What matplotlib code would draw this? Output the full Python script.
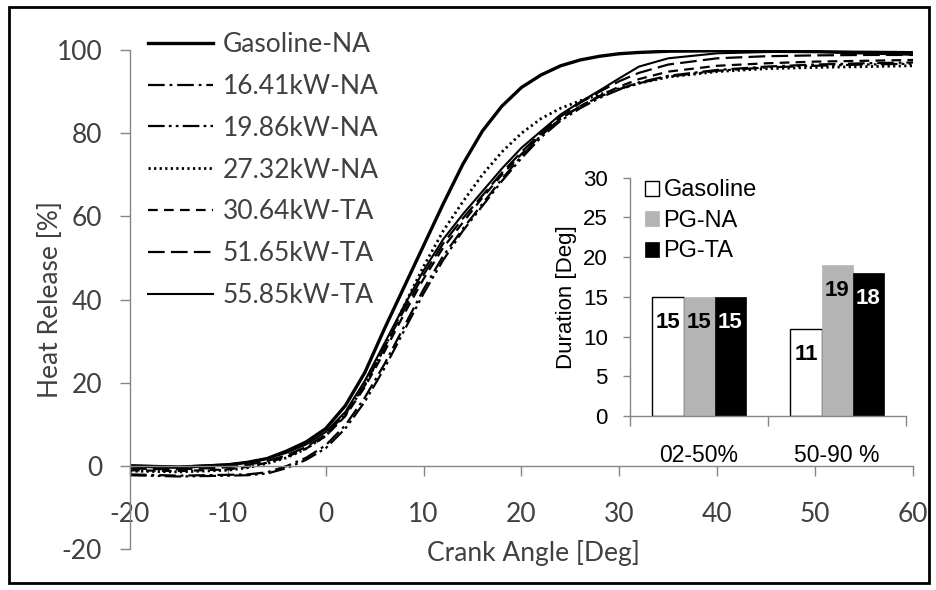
import numpy as np
import matplotlib.pyplot as plt
from matplotlib.patches import Rectangle

plt.rcParams['lines.scale_dashes'] = False
plt.rcParams['axes.unicode_minus'] = False

# crank angle [deg]
ca = [-20, -15, -10, -8, -6, -4, -2, 0, 2, 4, 6, 8, 10, 12, 14, 16, 18, 20,
      22, 24, 26, 28, 30, 32, 35, 40, 45, 50, 55, 60]

# heat release [%]
gas_na = [0.0, -0.3, 0.3, 0.9, 1.8, 3.6, 5.8, 9.0, 14.5, 22.5, 33.0, 43.0, 53.0, 63.0, 72.5,
          80.5, 86.5, 91.0, 94.0, 96.2, 97.6, 98.5, 99.1, 99.4, 99.7, 99.8, 99.7, 99.6, 99.3, 99.0]
kw1641 = [-2.0, -2.3, -2.1, -2.0, -1.5, 0.0, 2.0, 5.0, 9.8, 16.5, 24.5, 33.5, 42.5, 50.5, 57.0,
          63.0, 69.0, 74.5, 79.5, 83.5, 86.5, 88.8, 90.6, 92.2, 93.8, 95.2, 96.0, 96.5, 96.8, 97.0]
kw1986 = [-2.2, -2.5, -2.3, -2.2, -1.8, -0.5, 1.5, 4.3, 9.0, 15.5, 23.5, 32.5, 41.5, 49.5, 56.5,
          62.5, 68.5, 74.0, 79.0, 83.0, 86.0, 88.5, 90.5, 92.0, 93.6, 95.0, 95.8, 96.2, 96.5, 96.7]
kw2732 = [-1.2, -1.4, -1.0, -0.4, 0.6, 2.0, 4.2, 7.3, 12.3, 19.5, 28.5, 38.5, 48.0, 56.5, 63.5,
          70.0, 75.5, 80.0, 83.5, 86.0, 87.8, 89.3, 90.7, 92.0, 93.5, 94.8, 95.5, 95.8, 96.0, 96.2]
kw3064 = [-1.0, -1.2, -0.8, -0.2, 0.8, 2.2, 4.2, 7.2, 12.0, 19.0, 27.5, 36.5, 45.0, 52.5, 58.5,
          64.5, 70.0, 75.0, 79.5, 83.5, 86.5, 89.0, 91.2, 93.0, 94.8, 96.2, 96.8, 97.2, 97.4, 97.6]
kw5165 = [-0.6, -0.8, -0.3, 0.3, 1.2, 2.6, 4.6, 7.6, 12.5, 19.5, 28.5, 37.5, 46.0, 53.5, 59.5,
          65.0, 70.5, 75.5, 80.0, 84.0, 87.3, 90.0, 92.5, 94.5, 96.5, 98.0, 98.5, 98.7, 98.8, 98.8]
kw5585 = [0.2, -0.1, 0.4, 0.9, 1.8, 3.2, 5.2, 8.2, 13.0, 20.5, 29.5, 38.5, 47.0, 54.5, 60.5,
          66.0, 71.5, 76.5, 80.5, 84.5, 87.5, 90.3, 93.2, 96.0, 98.0, 99.2, 99.5, 99.6, 99.6, 99.5]

labels = ['Gasoline-NA', '16.41kW-NA', '19.86kW-NA', '27.32kW-NA',
          '30.64kW-TA', '51.65kW-TA', '55.85kW-TA']

# inset: combustion duration [deg]
phases = ['02-50%', '50-90 %']
dur_gas = [15, 11]
dur_pgna = [15, 19]
dur_pgta = [15, 18]

txt = '#404040'
spc = '#868686'
mfont = 'Lato'
ifont = 'Liberation Sans'
fs = 19

fig = plt.figure(figsize=(9.37, 5.9), dpi=100)
ax = fig.add_axes([0.1387, 0.069, 0.8357, 0.8463])

styles = [
    dict(lw=2.4, ls='-'),
    dict(lw=1.6, dashes=(12, 3.5, 2, 3.5)),
    dict(lw=1.6, dashes=(12, 3, 2, 3, 2, 3)),
    dict(lw=2.0, dashes=(1.6, 2.4)),
    dict(lw=1.6, dashes=(7, 4.5)),
    dict(lw=1.6, dashes=(12, 4.5)),
    dict(lw=1.5, ls='-'),
]
series = [gas_na, kw1641, kw1986, kw2732, kw3064, kw5165, kw5585]
handles = []
for ys, st, lb in zip(series, styles, labels):
    h, = ax.plot(ca, ys, color='black', label=lb, **st)
    handles.append(h)

ax.set_xlim(-20, 60)
ax.set_ylim(-20, 100)
ax.set_xticks(np.arange(-20, 61, 10))
ax.set_yticks(np.arange(-20, 101, 20))
ax.spines['top'].set_visible(False)
ax.spines['right'].set_visible(False)
ax.spines['bottom'].set_position(('data', 0))
for s in ['left', 'bottom']:
    ax.spines[s].set_color(spc)
    ax.spines[s].set_linewidth(1.0)
ax.tick_params(axis='x', direction='out', length=7, width=1, color=spc,
               pad=19, labelsize=fs, labelcolor=txt)
ax.tick_params(axis='y', direction='out', length=7, width=1, color=spc,
               pad=13, labelsize=fs, labelcolor=txt)
for t in ax.get_xticklabels() + ax.get_yticklabels():
    t.set_fontfamily(mfont)
ax.set_xlabel('Crank Angle [Deg]', fontsize=fs, color=txt, family=mfont, va='center')
ax.xaxis.set_label_coords(0.515, -0.008)
ax.set_ylabel('Heat Release [%]', fontsize=fs, color=txt, family=mfont, va='center')
ax.yaxis.set_label_coords(-0.102, 0.5)

ax.legend(handles=handles, loc='upper left', bbox_to_anchor=(0.158, 0.946),
          bbox_transform=fig.transFigure, frameon=False, borderpad=0,
          borderaxespad=0, handlelength=2.46, handletextpad=0.38,
          labelspacing=0.64, prop={'family': mfont, 'size': fs}, labelcolor=txt)

# inset bar chart
ins = fig.add_axes([0.6724, 0.2949, 0.2946, 0.4041])
xi = np.arange(len(phases))
w = 0.225
b1 = ins.bar(xi - w, dur_gas, w, color='white', edgecolor='black', lw=1.0, label='Gasoline')
b2 = ins.bar(xi, dur_pgna, w, color='#b4b4b4', edgecolor='#b4b4b4', lw=0.5, label='PG-NA')
b3 = ins.bar(xi + w, dur_pgta, w, color='black', edgecolor='black', lw=0.5, label='PG-TA')
for bars, c in [(b1, 'black'), (b2, 'black'), (b3, 'white')]:
    for t in ins.bar_label(bars, padding=-26):
        t.set_color(c)
        t.set_fontweight('bold')
        t.set_fontsize(16)
        t.set_family(ifont)

ins.set_xlim(-0.5, 1.5)
ins.set_ylim(0, 30)
ins.set_yticks(np.arange(0, 31, 5))
ins.set_xticks(xi)
ins.set_xticklabels(phases)
ins.set_xticks([-0.5, 0.5, 1.5], minor=True)
ins.spines['top'].set_visible(False)
ins.spines['right'].set_visible(False)
for s in ['left', 'bottom']:
    ins.spines[s].set_color(spc)
    ins.spines[s].set_linewidth(1.0)
ins.tick_params(axis='x', which='major', length=0, pad=20, labelsize=16.5)
ins.tick_params(axis='x', which='minor', length=7, width=1, color=spc)
ins.tick_params(axis='y', length=5, width=1, color=spc, pad=11, labelsize=16)
for t in ins.get_xticklabels() + ins.get_yticklabels():
    t.set_fontfamily(ifont)
ins.set_ylabel('Duration [Deg]', fontsize=16, family=ifont, labelpad=4)
ins.patch.set_alpha(0)

ins.legend(loc='upper left', bbox_to_anchor=(0.688, 0.696),
           bbox_transform=fig.transFigure, frameon=False, borderpad=0,
           borderaxespad=0, handlelength=0.6, handleheight=0.6,
           handletextpad=0.2, labelspacing=0.36,
           prop={'family': ifont, 'size': 17})

# outer frame
fig.patches.append(Rectangle((0.0096, 0.012), 0.982, 0.976, transform=fig.transFigure,
                             fill=False, edgecolor='black', lw=2))

fig.savefig('out.png', dpi=100)
